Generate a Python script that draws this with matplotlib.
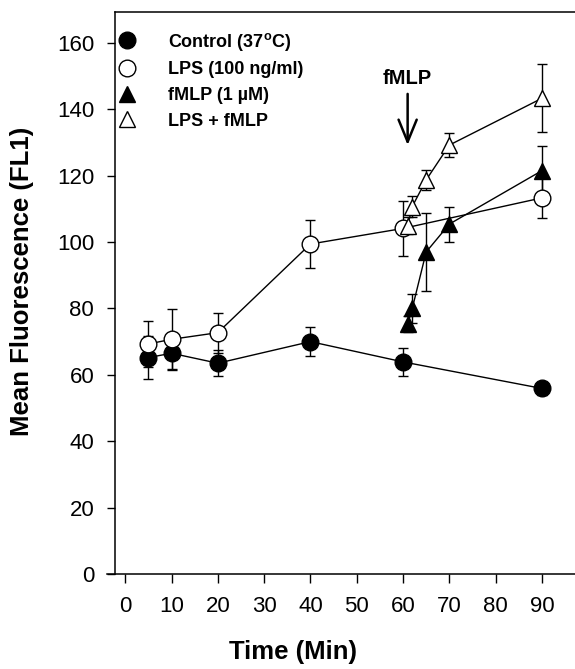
import matplotlib
matplotlib.use("Agg")
import matplotlib.pyplot as plt
from matplotlib.lines import Line2D

plt.rcParams['font.family'] = ['Liberation Sans', 'DejaVu Sans']
plt.rcParams['mathtext.fontset'] = 'custom'
plt.rcParams['mathtext.bf'] = 'Liberation Sans:bold'
plt.rcParams['mathtext.rm'] = 'Liberation Sans'

# ==== Data ====
control_t = [5, 10, 20, 40, 60, 90]
control_y = [65.2, 66.5, 63.5, 70.0, 63.9, 55.9]
control_err = [6.4, 5.1, 4.0, 4.4, 4.2, 2.0]

lps_t = [5, 10, 20, 40, 60, 90]
lps_y = [69.3, 70.7, 72.7, 99.4, 104.1, 113.3]
lps_err = [7.0, 9.0, 6.0, 7.1, 8.4, 6.0]

fmlp_t = [61, 62, 65, 70, 90]
fmlp_y = [75.3, 80.0, 97.0, 105.4, 121.5]
fmlp_err = [2.5, 4.3, 11.6, 5.3, 7.5]

both_t = [61, 62, 65, 70, 90]
both_y = [104.9, 110.7, 118.7, 129.2, 143.3]
both_err = [2.5, 3.2, 3.0, 3.5, 10.2]

labels = ["Control (37$^\\mathbf{o}$C)", "LPS (100 ng/ml)", "fMLP (1 \u00b5M)", "LPS + fMLP"]
x_ticks = [0, 10, 20, 30, 40, 50, 60, 70, 80, 90]
y_ticks = [0, 20, 40, 60, 80, 100, 120, 140, 160]
fmlp_added = 61

fig = plt.figure(figsize=(5.75, 6.69), dpi=100)
ax = fig.add_axes([106.7 / 575, 95 / 669, 1 - 106.7 / 575, 562 / 669])

series = [
    (control_t, control_y, control_err, 'o', 'black'),
    (lps_t, lps_y, lps_err, 'o', 'white'),
    (fmlp_t, fmlp_y, fmlp_err, '^', 'black'),
    (both_t, both_y, both_err, '^', 'white'),
]

handles = []
for (t, y, e, m, fc), lab in zip(series, labels):
    ax.errorbar(t, y, yerr=e, fmt='none', ecolor='black', elinewidth=1.0,
                capsize=3.5, capthick=1.0, zorder=2)
    ax.plot(t, y, color='black', linewidth=1.0, marker=m, markersize=12,
            markerfacecolor=fc, markeredgecolor='black', markeredgewidth=1.0,
            zorder=3)
    handles.append(Line2D([], [], linestyle='none', marker=m, markersize=12,
                          markerfacecolor=fc, markeredgecolor='black',
                          markeredgewidth=1.0, label=lab))

leg = ax.legend(handles=handles, loc='upper left', bbox_to_anchor=(0.025, 0.967),
                frameon=False, borderpad=0, borderaxespad=0, handlelength=1.0,
                handletextpad=1.75, labelspacing=0.48,
                prop={'weight': 'bold', 'size': 13})

ax.annotate("fMLP", xy=(fmlp_added, 129.2), xytext=(fmlp_added, 146.3),
            ha='center', va='bottom', fontsize=14.5, fontweight='bold',
            arrowprops=dict(arrowstyle='->,head_length=1.1,head_width=0.45',
                            color='black', linewidth=1.8, shrinkA=2, shrinkB=0))

ax.set_xlim(-4, 97.15)
ax.set_ylim(0, 169.3)
ax.set_xticks(x_ticks)
ax.set_yticks(y_ticks)
ax.spines['left'].set_position(('data', -2.2))
ax.spines['top'].set_bounds(-2.2, 97.15)
ax.spines['right'].set_visible(False)
for s in ['left', 'bottom', 'top']:
    ax.spines[s].set_linewidth(1.1)
ax.tick_params(axis='both', direction='out', width=1.0, labelsize=16)
ax.tick_params(axis='y', length=6, pad=9)
ax.tick_params(axis='x', length=6.5, pad=9)

ax.set_ylabel("Mean Fluorescence (FL1)", fontsize=18.5, fontweight='bold')
ax.set_xlabel("Time (Min)", fontsize=18.5, fontweight='bold')
ax.yaxis.set_label_coords(-0.155, 0.52)
ax.xaxis.set_label_coords(0.398, -0.117)

fig.savefig("out.png", dpi=100)
